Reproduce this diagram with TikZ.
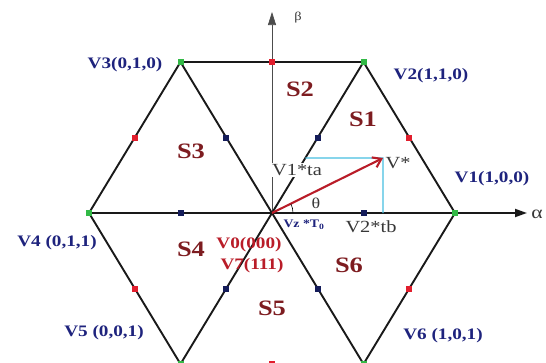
\documentclass[tikz,border=0pt]{standalone}
\usepackage{fontspec}
\setmainfont[FakeStretch=1.2]{Liberation Serif}
\usetikzlibrary{arrows.meta,calc}
\definecolor{navy}{RGB}{30,35,125}
\definecolor{dred}{RGB}{125,28,32}
\definecolor{vred}{RGB}{185,28,40}
\definecolor{dotred}{RGB}{225,30,45}
\definecolor{dotnavy}{RGB}{20,28,90}
\definecolor{dotgreen}{RGB}{50,185,70}
\definecolor{cyanl}{RGB}{70,190,225}
\definecolor{txtgray}{RGB}{55,55,55}
\begin{document}
\begin{tikzpicture}[x=1pt,y=-1pt,
  edge/.style={line width=1.9pt,black!90},
  sq/.style={rectangle,inner sep=0pt,minimum size=6pt},
  gsq/.style={sq,fill=dotgreen},
  rsq/.style={sq,fill=dotred},
  nsq/.style={sq,fill=dotnavy},
  vlab/.style={inner sep=0pt,text=navy,font=\fontsize{16}{18}\selectfont\bfseries},
  sec/.style={inner sep=0pt,text=dred,font=\fontsize{22}{24}\selectfont\bfseries},
  zlab/.style={inner sep=0pt,text=vred,font=\fontsize{16}{18}\selectfont\bfseries},
  glab/.style={inner sep=0pt,text=txtgray,font=\fontsize{17}{19}\selectfont}]
\useasboundingbox (0,0) rectangle (546,362);
\clip (0,0) rectangle (546,362);
% vertices
\coordinate (O) at (272,213);
\coordinate (V1) at (455,213);
\coordinate (V2) at (363.5,62);
\coordinate (V3) at (180.5,62);
\coordinate (V4) at (89,213);
\coordinate (V5) at (180.5,364);
\coordinate (V6) at (363.5,364);
\coordinate (aend) at (527,213);
\coordinate (bend) at (272,12);
\coordinate (P) at (383,158);
\coordinate (A) at ($(O)!0.364!(V2)$);
\coordinate (B) at (P |- O);
% beta axis
\draw[line width=0.7pt,gray!60!black,-{Triangle[length=13pt,width=8pt]}] (O) -- (bend);
% hexagon
\draw[edge] (V3) -- (V2) -- (V1) -- (V6) -- (V5) -- (V4) -- cycle;
\draw[edge] (V3) -- (V6);
\draw[edge] (V2) -- (V5);
\draw[edge] (V4) -- (V1);
\draw[edge,-{Triangle[length=12pt,width=8pt]}] (V1) -- (aend);
% projections
\draw[cyanl,line width=1.1pt] (A) -- (P) -- (B);
% vector
\draw[vred,line width=2.1pt,-{Straight Barb[length=8pt,width=11pt]}] (O) -- (P);
\draw[black,line width=0.6pt] ($(O)!21pt!(V1)$) arc[start angle=0,end angle=26,radius=21pt];
% dots
\foreach \n/\p in {g1/V1,g2/V2,g3/V3,g4/V4,g5/V5,g6/V6}{\node[gsq] (\n) at (\p) {};}
\node[rsq] (r1) at ($(V3)!0.5!(V2)$) {};
\node[rsq] (r2) at ($(V2)!0.5!(V1)$) {};
\node[rsq] (r3) at ($(V1)!0.5!(V6)$) {};
\node[rsq] (r4) at ($(V6)!0.5!(V5)$) {};
\node[rsq] (r5) at ($(V5)!0.5!(V4)$) {};
\node[rsq] (r6) at ($(V4)!0.5!(V3)$) {};
\node[nsq] (n1) at ($(O)!0.5!(V1)$) {};
\node[nsq] (n2) at ($(O)!0.5!(V2)$) {};
\node[nsq] (n3) at ($(O)!0.5!(V3)$) {};
\node[nsq] (n4) at ($(O)!0.5!(V4)$) {};
\node[nsq] (n5) at ($(O)!0.5!(V5)$) {};
\node[nsq] (n6) at ($(O)!0.5!(V6)$) {};
% labels
\node[vlab] (l3) at (125,65) {V3(0,1,0)};
\node[vlab] (l2) at (431,76) {V2(1,1,0)};
\node[vlab] (l1) at (492,179) {V1(1,0,0)};
\node[vlab] (l4) at (57,243) {V4 (0,1,1)};
\node[vlab] (l5) at (104,333) {V5 (0,0,1)};
\node[vlab] (l6) at (443,336) {V6 (1,0,1)};
\node[sec] (s1) at (363,119) {S1};
\node[sec] (s2) at (300,89) {S2};
\node[sec] (s3) at (191,151) {S3};
\node[sec] (s4) at (191,249) {S4};
\node[sec] (s5) at (272,308) {S5};
\node[sec] (s6) at (349,265) {S6};
\node[zlab] (z0) at (249,245) {V0(000)};
\node[zlab] (z7) at (252,266) {V7(111)};
\node[glab,fill=white,inner sep=1pt] (ta) at (297,170) {V1*ta};
\node[glab] (tb) at (371,227) {V2*tb};
\node[glab] (vs) at (398,163) {V*};
\node[inner sep=0pt,text=txtgray,font=\fontsize{15}{17}\selectfont] (th) at (316,203) {θ};
\node[inner sep=0pt,text=navy,font=\fontsize{11.5}{13}\selectfont\bfseries] (vz) at (304,225) {Vz *T\textsubscript{0}};
\node[inner sep=0pt,text=txtgray,font=\fontsize{12}{14}\selectfont] (bl) at (298,18) {β};
\node[inner sep=0pt,text=txtgray,font=\fontsize{18}{20}\selectfont] (al) at (537,214) {α};
\end{tikzpicture}
\end{document}
